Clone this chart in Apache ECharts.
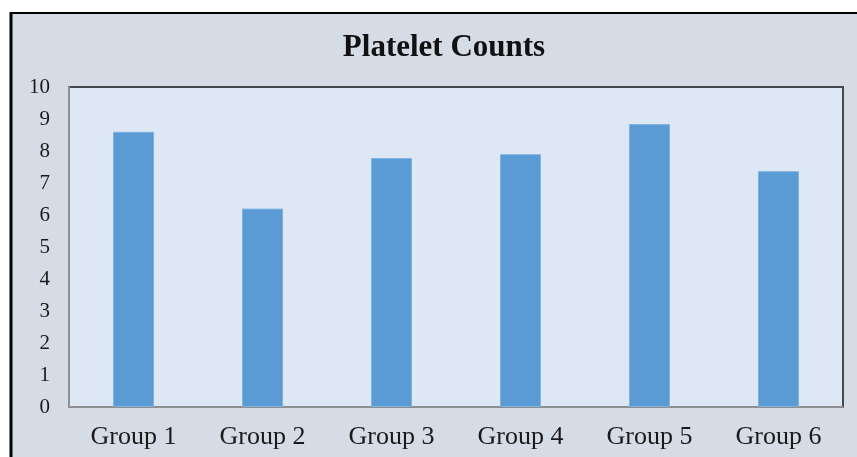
<!DOCTYPE html>
<html>
<head>
<meta charset="utf-8">
<style>
  html, body { margin: 0; padding: 0; background: #ffffff; }
  #chart { width: 857px; height: 457px; }
</style>
<script src="https://cdn.jsdelivr.net/npm/echarts@6/dist/echarts.min.js"></script>
</head>
<body>
<div id="chart"></div>
<script>
// Platelet counts per group
const groups = ['Group 1', 'Group 2', 'Group 3', 'Group 4', 'Group 5', 'Group 6'];
const plateletCounts = [8.6, 6.2, 7.78, 7.9, 8.84, 7.37];
const yTicks = { min: 0, max: 10, interval: 1 };

const chart = echarts.init(document.getElementById('chart'), null, { renderer: 'canvas' });

const serif = '"Liberation Serif", "DejaVu Serif", serif';

chart.setOption({
  backgroundColor: '#ffffff',
  animation: false,
  graphic: [
    {
      type: 'rect',
      z: -10,
      shape: { x: 11, y: 13, width: 900, height: 500 },
      style: { fill: '#d6dce5', stroke: '#000000', lineWidth: 2 }
    },
    {
      type: 'line',
      z: -9,
      shape: { x1: 11, y1: 12, x2: 11, y2: 460 },
      style: { stroke: '#000000', lineWidth: 3 }
    }
  ],
  title: {
    text: 'Platelet Counts',
    left: 439,
    top: 27,
    textAlign: 'center',
    textStyle: {
      fontFamily: serif,
      fontWeight: 'bold',
      fontSize: 31,
      color: '#111111'
    }
  },
  grid: {
    left: 69,
    top: 87,
    right: 14,
    bottom: 50,
    show: true,
    backgroundColor: '#dde8f4',
    borderColor: '#45484d',
    borderWidth: 2
  },
  xAxis: {
    type: 'category',
    data: groups,
    axisLine: { show: true, lineStyle: { color: '#a6a6a6', width: 1.5 } },
    axisTick: { show: false },
    axisLabel: {
      fontFamily: serif,
      fontSize: 26,
      color: '#1a1a1a',
      margin: 17
    },
    splitLine: { show: false }
  },
  yAxis: {
    type: 'value',
    min: yTicks.min,
    max: yTicks.max,
    interval: yTicks.interval,
    axisLine: { show: true, lineStyle: { color: '#a6a6a6', width: 1.5 } },
    axisTick: { show: false },
    axisLabel: {
      fontFamily: serif,
      fontSize: 21,
      color: '#1a1a1a',
      margin: 19
    },
    splitLine: { show: false }
  },
  series: [
    {
      type: 'bar',
      data: plateletCounts,
      barWidth: 41,
      itemStyle: {
        color: '#5b9bd5',
        borderColor: '#7fb2e0',
        borderWidth: 1
      }
    }
  ]
});
</script>
</body>
</html>
